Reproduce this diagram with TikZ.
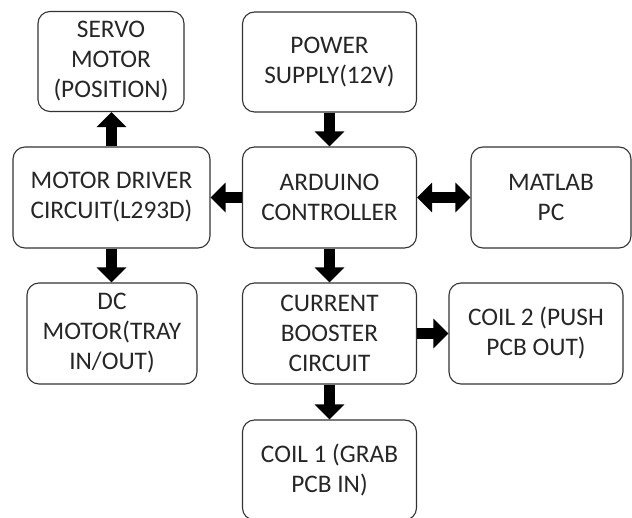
\documentclass[tikz,border=0pt]{standalone}
\usepackage{fontspec}
\setmainfont{Carlito}
\usetikzlibrary{arrows.meta}
\begin{document}
\begin{tikzpicture}[x=1pt,y=-1pt,
  box/.style={draw=black!80,line width=1.1pt,rounded corners=12pt,inner sep=0pt,
    align=center,text=black!85,font=\fontsize{25.3}{30}\selectfont},
  blk/.style={line width=11pt,-{Triangle[width=29pt,length=15pt]}},
  dbl/.style={line width=11pt,{Triangle[width=29pt,length=15pt]}-{Triangle[width=29pt,length=15pt]}}]
\clip (0,0) rectangle (632,518);
\useasboundingbox (0,0) rectangle (632,518);
\node[box,minimum width=146pt,minimum height=100pt] (servo) at (111,61.5) {SERVO\\MOTOR\\(POSITION)};
\node[box,minimum width=174pt,minimum height=100pt] (power) at (329.5,62) {POWER\\SUPPLY(12V)};
\node[box,minimum width=197pt,minimum height=101pt] (driver) at (111.5,197.5) {MOTOR DRIVER\\CIRCUIT(L293D)};
\node[box,minimum width=174pt,minimum height=101pt] (ard) at (329.5,197.5) {ARDUINO\\CONTROLLER};
\node[box,minimum width=160pt,minimum height=101pt] (matlab) at (551,197.5) {MATLAB\\PC};
\node[box,minimum width=170pt,minimum height=101pt] (dc) at (112,333.5) {DC\\MOTOR(TRAY\\IN/OUT)};
\node[box,minimum width=174pt,minimum height=101pt] (boost) at (329.5,333.5) {CURRENT\\BOOSTER\\CIRCUIT};
\node[box,minimum width=174pt,minimum height=101pt] (coil2) at (536,333.5) {COIL 2 (PUSH\\PCB OUT)};
\node[box,minimum width=174pt,minimum height=100pt] (coil1) at (329.5,470) {COIL 1 (GRAB\\PCB IN)};
\draw[blk] (driver.north) -- (driver.north |- servo.south);
\draw[blk] (power.south) -- (ard.north);
\draw[blk] (ard.west) -- (driver.east);
\draw[dbl] (ard.east) -- (matlab.west);
\draw[blk] (driver.south) -- (driver.south |- dc.north);
\draw[blk] (ard.south) -- (boost.north);
\draw[blk] (boost.east) -- (coil2.west);
\draw[blk] (boost.south) -- (coil1.north);
\end{tikzpicture}
\end{document}
